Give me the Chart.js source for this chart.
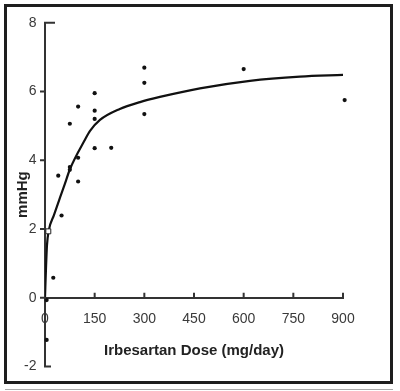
<!DOCTYPE html>
<html>
<head>
<meta charset="utf-8">
<script src="https://cdn.jsdelivr.net/npm/chart.js@4/dist/chart.umd.min.js"></script>
<style>
  html, body { margin: 0; padding: 0; background: #fff; }
  #wrap { position: relative; width: 400px; height: 391px; }
  #frame { position: absolute; left: 4px; top: 4px; width: 389px; height: 380px; box-sizing: border-box; border: 3px solid #1e1e1e; }
  #rule { position: absolute; left: 5px; top: 389px; width: 388px; height: 1px; background: #aaa; }
  canvas { position: absolute; left: 0; top: 0; }
</style>
</head>
<body>
<div id="wrap">
  <div id="frame"></div>
  <div id="rule"></div>
  <canvas id="c" width="400" height="391"></canvas>
</div>
<script>
// Observed responses (dose in mg/day, change in mmHg)
const obsDose  = [150, 100, 150, 150, 75, 150, 200, 100, 75, 75, 40, 100, 300, 300, 300, 600, 905, 50, 25, 5, 5];
const obsValue = [5.95, 5.56, 5.44, 5.20, 5.06, 4.35, 4.36, 4.07, 3.80, 3.72, 3.55, 3.38, 6.69, 6.25, 5.34, 6.65, 5.75, 2.39, 0.58, -0.07, -1.23];
// Open square marker
const openDose  = [10];
const openValue = [1.93];
// Fitted curve
const curveDose  = [0, 3, 6, 11, 27, 45, 60, 75, 121, 136, 166, 226, 287, 347, 468, 619, 770, 900];
const curveValue = [0, 0.86, 1.53, 1.94, 2.40, 2.90, 3.31, 3.73, 4.60, 4.85, 5.17, 5.49, 5.69, 5.84, 6.09, 6.31, 6.43, 6.48];
// Tick labels
const xTicks = [0, 150, 300, 450, 600, 750, 900];
const yTicks = [-2, 0, 2, 4, 6, 8];
const xTitle = 'Irbesartan Dose (mg/day)';
const yTitle = 'mmHg';

const toXY = (xs, ys) => xs.map((x, i) => ({x: x, y: ys[i]}));

const tickPlugin = {
  id: 'tickMarks',
  afterDraw(chart) {
    const ctx = chart.ctx, xs = chart.scales.x, ys = chart.scales.y;
    const y0 = ys.getPixelForValue(0);
    const x0 = xs.getPixelForValue(0);
    ctx.save();
    ctx.strokeStyle = '#333';
    ctx.lineWidth = 2;
    ctx.beginPath();
    xTicks.forEach(v => {
      if (v === 0) return;
      const px = xs.getPixelForValue(v);
      ctx.moveTo(px, y0 + 1);
      ctx.lineTo(px, y0 - 5);
    });
    yTicks.forEach(v => {
      const py = ys.getPixelForValue(v);
      if (v === yTicks[yTicks.length - 1]) { ctx.moveTo(x0 - 1, py); ctx.lineTo(x0 + 10, py); }
      else if (v === yTicks[0]) { ctx.moveTo(x0 - 1, py); ctx.lineTo(x0 + 6, py); }
      else { ctx.moveTo(x0 - 5, py); ctx.lineTo(x0 + 1, py); }
    });
    ctx.stroke();
    ctx.restore();
  }
};

new Chart(document.getElementById('c'), {
  type: 'scatter',
  data: {
    datasets: [
      {
        type: 'line',
        data: toXY(curveDose, curveValue),
        borderColor: '#111',
        borderWidth: 2.2,
        pointRadius: 0,
        fill: false,
        cubicInterpolationMode: 'monotone',
        order: 2
      },
      {
        data: toXY(obsDose, obsValue),
        backgroundColor: '#111',
        borderColor: '#111',
        borderWidth: 0,
        pointRadius: 2.1,
        clip: false,
        order: 1
      },
      {
        data: toXY(openDose, openValue),
        backgroundColor: '#fff',
        borderColor: '#222',
        borderWidth: 1,
        pointStyle: 'rect',
        pointRadius: 3.5,
        clip: false,
        order: 0
      }
    ]
  },
  options: {
    responsive: false,
    animation: false,
    layout: { padding: { left: 0, top: 22.7, right: 57, bottom: 24.6 } },
    plugins: { legend: { display: false }, tooltip: { enabled: false } },
    scales: {
      x: {
        type: 'linear',
        position: { y: 0 },
        min: 0, max: 900,
        afterBuildTicks: s => { s.ticks = xTicks.map(v => ({value: v})); },
        afterFit: s => { s.height = 62; },
        grid: { display: false, drawTicks: false, tickLength: 0 },
        border: { display: true, color: '#333', width: 2 },
        ticks: { padding: 13, color: '#3a3a3a', font: { family: "'Liberation Sans', Arial, sans-serif", size: 14 }, maxRotation: 0 },
        title: { display: true, text: xTitle, color: '#222', padding: { top: 0, bottom: 0 }, font: { family: "'Liberation Sans', Arial, sans-serif", size: 15, weight: 'bold' } }
      },
      y: {
        type: 'linear',
        position: 'left',
        min: -2, max: 8,
        afterBuildTicks: s => { s.ticks = yTicks.map(v => ({value: v})); },
        afterFit: s => { s.width = 45; },
        grid: { display: false, drawTicks: false, tickLength: 0 },
        border: { display: true, color: '#333', width: 2 },
        ticks: { padding: 8.5, color: '#3a3a3a', font: { family: "'Liberation Sans', Arial, sans-serif", size: 14 } },
        title: { display: true, text: yTitle, color: '#222', padding: { top: 13.5, bottom: 0 }, font: { family: "'Liberation Sans', Arial, sans-serif", size: 15, weight: 'bold' } }
      }
    }
  },
  plugins: [tickPlugin]
});
</script>
</body>
</html>
